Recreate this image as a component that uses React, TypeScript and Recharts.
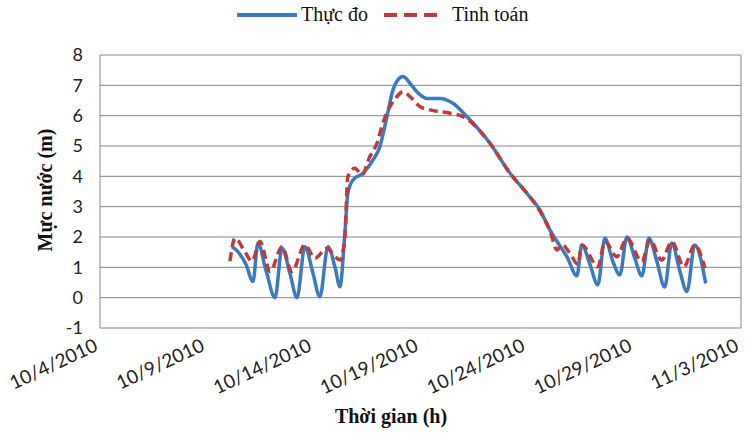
import { LineChart, Line, XAxis, YAxis, CartesianGrid, ReferenceLine } from 'recharts';

// x values are days counted from 10/4/2010
const xTicks = [0, 5, 10, 15, 20, 25, 30];
const xTickLabels = ['10/4/2010', '10/9/2010', '10/14/2010', '10/19/2010', '10/24/2010', '10/29/2010', '11/3/2010'];
const yTicks = [-1, 0, 1, 2, 3, 4, 5, 6, 7, 8];

const measuredDays = [
  6.18, 6.41, 6.83, 7.16, 7.39, 7.77, 8.19, 8.52, 8.89, 9.22, 9.59, 9.97, 10.29, 10.67, 11.0, 11.23,
  11.46, 11.6, 11.84, 12.31, 12.78, 13.1, 13.43, 13.71, 13.94, 14.18, 14.51, 14.83, 15.3, 15.91, 16.52,
  17.17, 18.25, 19.19, 19.98, 20.59, 21.06, 21.39, 21.85, 22.32, 22.55, 22.93, 23.3, 23.63, 24.0, 24.33,
  24.66, 25.03, 25.36, 25.69, 26.06, 26.43, 26.76, 27.13, 27.47, 27.84, 28.35,
];
const measuredLevels = [
  1.68, 1.55, 1.1, 0.53, 1.79, 0.9, 0.0, 1.63, 0.8, 0.0, 1.68, 0.8, 0.03, 1.68, 1.0, 0.36,
  2.12, 3.44, 3.88, 4.1, 4.54, 4.98, 5.97, 6.85, 7.18, 7.29, 7.07, 6.79, 6.57, 6.57, 6.41,
  5.97, 5.09, 4.1, 3.44, 2.89, 2.23, 1.85, 1.35, 0.72, 1.74, 1.1, 0.42, 1.96, 1.2, 0.75,
  2.0, 1.3, 0.72, 1.96, 1.2, 0.35, 1.8, 0.9, 0.2, 1.74, 0.47,
];

const computedDays = [
  6.08, 6.32, 6.79, 7.11, 7.49, 7.96, 8.52, 8.98, 9.59, 10.06, 10.62, 11.0, 11.23, 11.46, 11.6, 11.93,
  12.26, 12.63, 12.96, 13.24, 13.57, 13.9, 14.18, 14.51, 14.97, 15.44, 16.38, 16.99, 18.25, 19.19, 19.98,
  20.59, 21.06, 21.39, 21.62, 22.0, 22.37, 22.55, 23.3, 23.63, 24.19, 24.66, 25.36, 25.74, 26.29, 26.76,
  27.33, 27.84, 28.31,
];
const computedLevels = [
  1.2, 1.96, 1.5, 1.2, 1.85, 0.86, 1.68, 0.86, 1.74, 1.3, 1.63, 1.35, 1.24, 2.0, 3.99, 4.27,
  4.05, 4.65, 5.09, 5.75, 6.3, 6.63, 6.79, 6.63, 6.3, 6.19, 6.08, 5.97, 5.09, 4.1, 3.44,
  2.85, 2.2, 1.57, 1.75, 1.45, 1.1, 1.74, 1.02, 1.85, 1.35, 1.96, 1.19, 1.9, 1.24, 1.85,
  1.02, 1.74, 0.97,
];

const measured = measuredDays.map((t, i) => ({ t, v: measuredLevels[i] }));
const computed = computedDays.map((t, i) => ({ t, v: computedLevels[i] }));

const BLUE = '#3C7AC0';
const RED = '#C0393B';
const GRID = '#858585';
const tickFont = 'Lato, "Liberation Sans", sans-serif';
const serif = '"Liberation Serif", "DejaVu Serif", serif';

function DateTick(props: any) {
  const { x, y, payload } = props;
  const label = xTickLabels[xTicks.indexOf(payload.value)];
  const ax = x - 1;
  const ay = y + 22;
  return (
    <text
      x={ax}
      y={ay}
      textAnchor="end"
      fontSize={19}
      fontFamily={tickFont}
      fill="#222"
      transform={`rotate(-25 ${ax} ${ay})`}
    >
      {label}
    </text>
  );
}

export default function App() {
  return (
    <div style={{ position: 'absolute', left: 0, top: 0, width: 751, height: 440, background: '#fff' }}>
      <LineChart width={751} height={440} margin={{ top: 55, right: 10, bottom: 0, left: 0 }}>
        <CartesianGrid vertical={false} stroke={GRID} />
        <XAxis
          type="number"
          dataKey="t"
          domain={[0, 30]}
          ticks={xTicks}
          allowDataOverflow
          height={112}
          tickSize={0}
          tickMargin={0}
          axisLine={false}
          tickLine={false}
          tick={<DateTick />}
        />
        <YAxis
          type="number"
          domain={[-1, 8]}
          ticks={yTicks}
          width={100}
          tickSize={0}
          tickMargin={17}
          tickLine={false}
          axisLine={{ stroke: GRID }}
          tick={{ fontSize: 18, fontFamily: tickFont, fill: '#222' }}
        />
        <ReferenceLine x={30} stroke={GRID} />
        <Line
          data={measured}
          dataKey="v"
          type="monotone"
          stroke={BLUE}
          strokeWidth={3.5}
          dot={false}
          isAnimationActive={false}
        />
        <Line
          data={computed}
          dataKey="v"
          type="monotone"
          stroke={RED}
          strokeWidth={3.5}
          strokeDasharray="9 5"
          dot={false}
          isAnimationActive={false}
        />
      </LineChart>

      {/* legend */}
      <div
        style={{
          position: 'absolute',
          left: 237,
          top: 3,
          display: 'flex',
          alignItems: 'center',
          fontFamily: serif,
          fontSize: 20,
          color: '#111',
        }}
      >
        <svg width={60} height={10}>
          <line x1={0} y1={5} x2={60} y2={5} stroke={BLUE} strokeWidth={4} />
        </svg>
        <span style={{ marginLeft: 4 }}>Thực đo</span>
        <svg width={58} height={10} style={{ marginLeft: 16 }}>
          <line x1={0} y1={5} x2={58} y2={5} stroke={RED} strokeWidth={4} strokeDasharray="13 7" />
        </svg>
        <span style={{ marginLeft: 10 }}>Tinh toán</span>
      </div>

      {/* y axis title */}
      <div
        style={{
          position: 'absolute',
          left: 45,
          top: 190,
          transform: 'translate(-50%, -50%) rotate(-90deg)',
          whiteSpace: 'nowrap',
          fontFamily: serif,
          fontWeight: 'bold',
          fontSize: 20,
          color: '#111',
        }}
      >
        Mực nước (m)
      </div>

      {/* x axis title */}
      <div
        style={{
          position: 'absolute',
          left: 391,
          top: 416,
          transform: 'translate(-50%, -50%)',
          whiteSpace: 'nowrap',
          fontFamily: serif,
          fontWeight: 'bold',
          fontSize: 20,
          color: '#111',
        }}
      >
        Thời gian (h)
      </div>
    </div>
  );
}
